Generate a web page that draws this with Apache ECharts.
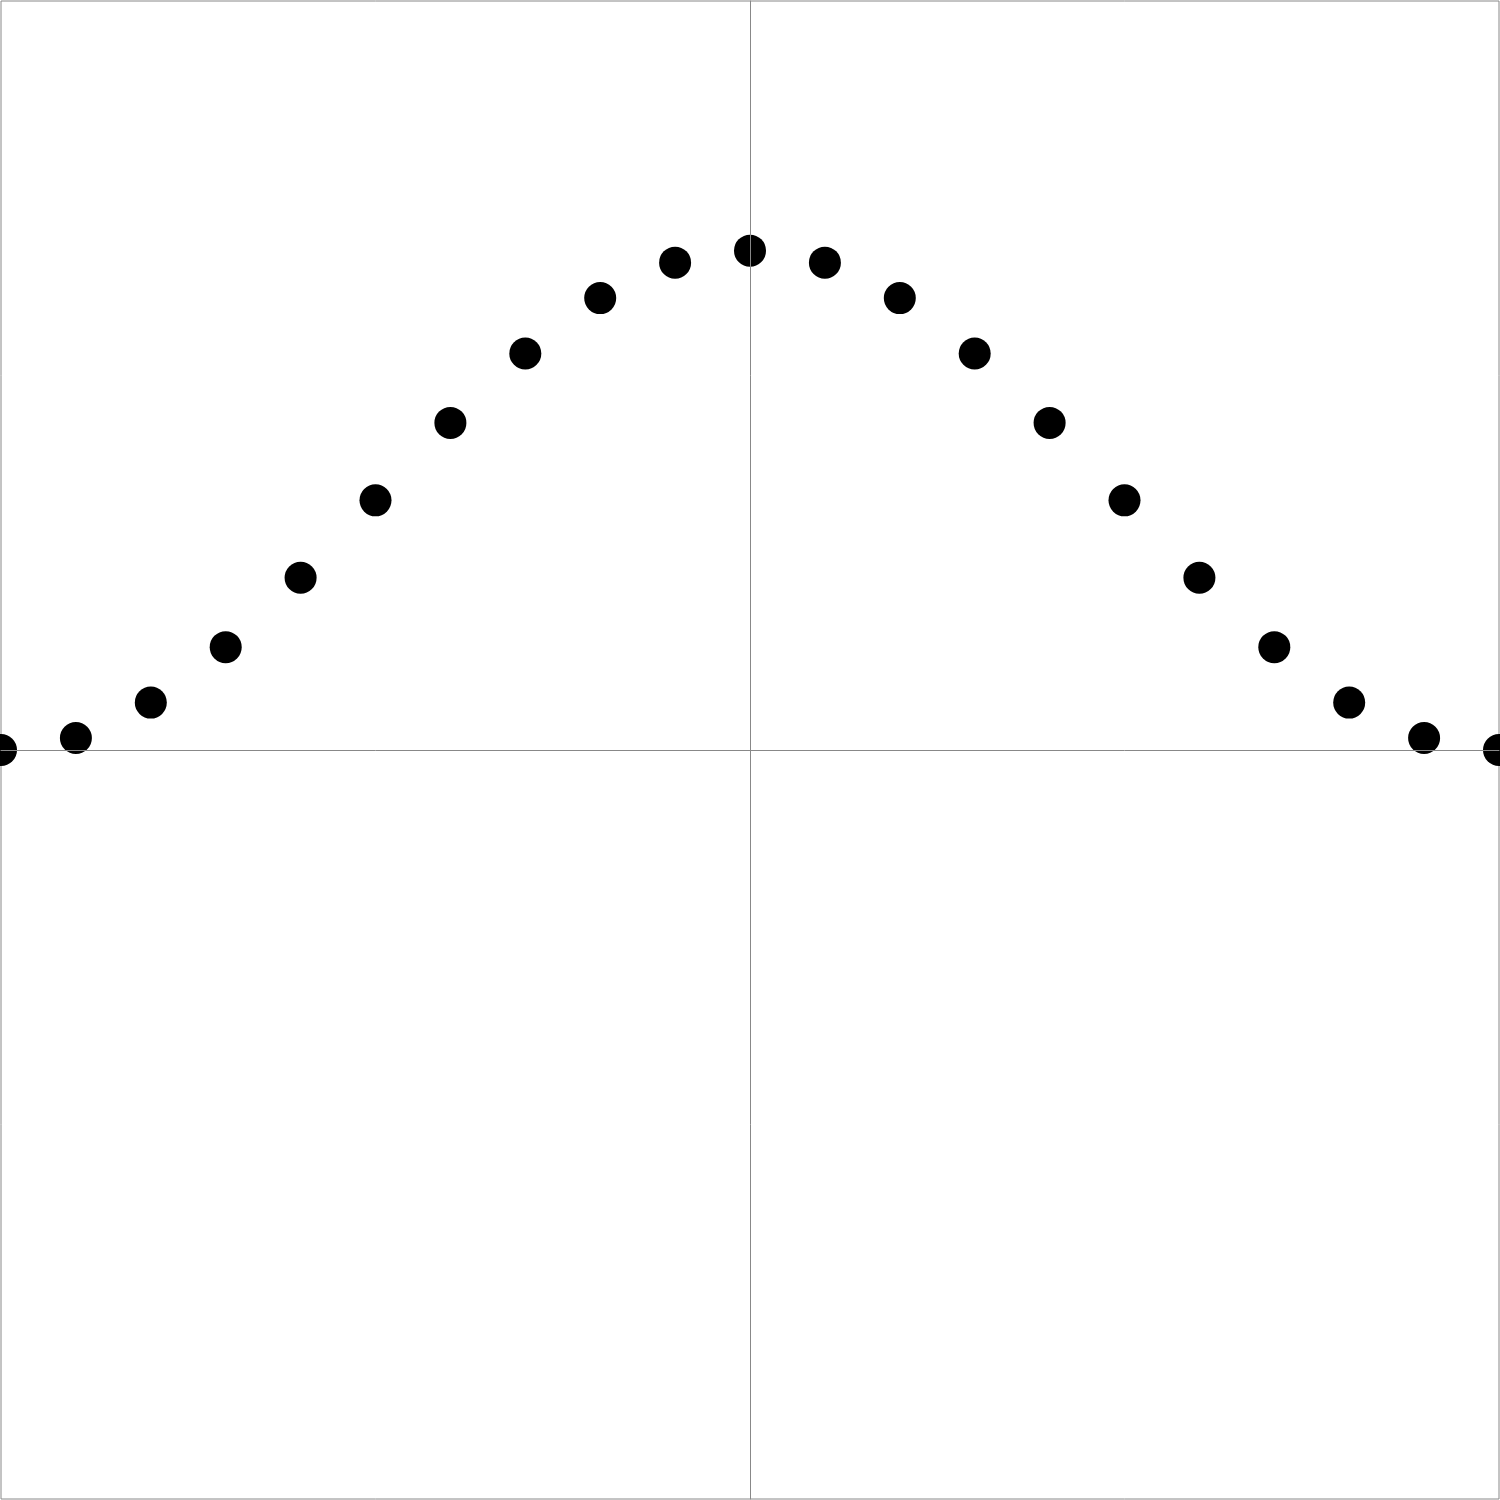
<!DOCTYPE html>
<html>
<head>
<meta charset="utf-8">
<script src="https://cdn.jsdelivr.net/npm/echarts@6/dist/echarts.min.js"></script>
<style>html,body{margin:0;padding:0;background:#fff;}#chart{width:1500px;height:1500px;}</style>
</head>
<body>
<div id="chart"></div>
<script>
var xValues = [-1.0, -0.9, -0.8, -0.7, -0.6, -0.5, -0.4, -0.3, -0.2, -0.1, 0.0, 0.1, 0.2, 0.3, 0.4, 0.5, 0.6, 0.7, 0.8, 0.9, 1.0];
var yValues = [0.0, 0.024, 0.095, 0.206, 0.345, 0.5, 0.655, 0.794, 0.905, 0.976, 1.0, 0.976, 0.905, 0.794, 0.655, 0.5, 0.345, 0.206, 0.095, 0.024, 0.0];
var points = xValues.map(function (x, i) { return [x, yValues[i]]; });

var chart = echarts.init(document.getElementById('chart'), null, {renderer: 'canvas'});
var axisCommon = {
  type: 'value',
  z: 10,
  axisLine: {show: true, onZero: true, lineStyle: {color: '#888888', width: 1}},
  axisTick: {show: false},
  axisLabel: {show: false},
  splitLine: {show: false}
};
chart.setOption({
  animation: false,
  backgroundColor: '#ffffff',
  grid: {left: 1, right: 1, top: 1, bottom: 1, show: true, borderColor: '#888888', borderWidth: 1, containLabel: false},
  xAxis: Object.assign({}, axisCommon, {min: -1, max: 1}),
  yAxis: Object.assign({}, axisCommon, {min: -1.5, max: 1.5}),
  series: [{
    type: 'scatter',
    data: points,
    symbol: 'circle',
    symbolSize: 32,
    clip: false,
    z: 2,
    itemStyle: {color: '#000000', opacity: 1}
  }]
});
</script>
</body>
</html>
